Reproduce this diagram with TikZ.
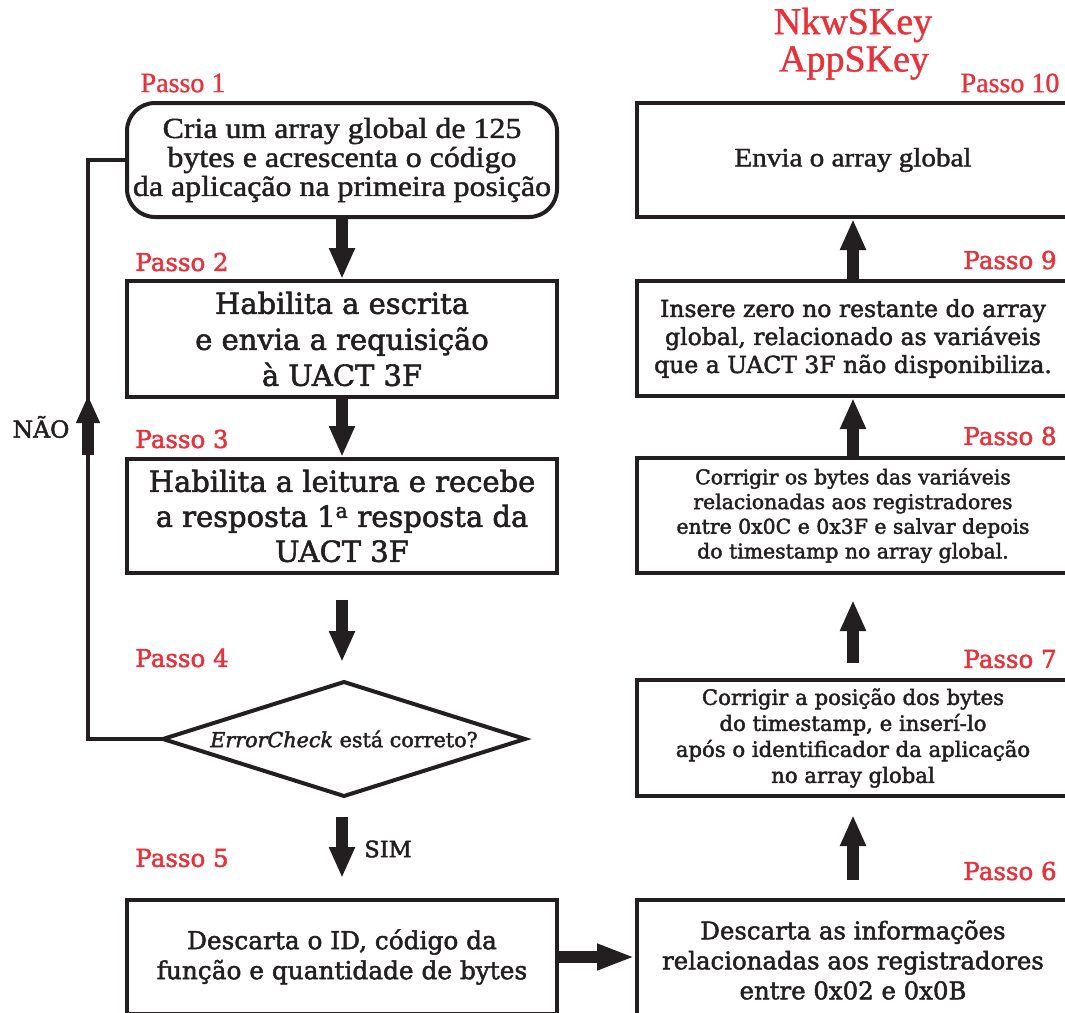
\documentclass[tikz,border=0pt]{standalone}
\usepackage{fontspec}
\setmainfont{DejaVu Serif}[FakeBold=2]
\newfontfamily\cond{Liberation Serif}[FakeStretch=1.1,FakeBold=1.5]
\newfontfamily\condn{Liberation Serif}[FakeBold=1]
\usetikzlibrary{arrows.meta}
\definecolor{ink}{RGB}{35,31,32}
\definecolor{passred}{RGB}{232,49,58}
\begin{document}
\begin{tikzpicture}[x=1pt,y=-1pt,
  box/.style={draw=ink, line width=4pt, rectangle, align=center, text=ink, inner sep=0pt},
  bigarrow/.style={draw=ink, line width=12pt, -{Triangle[width=24pt,length=31pt]}},
  passo/.style={text=passred, inner sep=0pt, font=\fontsize{24.5}{28}\selectfont},
  passoc/.style={text=passred, inner sep=0pt, font=\condn\fontsize{28}{30}\selectfont},
  lbl/.style={text=ink, inner sep=0pt}
]
\useasboundingbox (0,0) rectangle (1065,1012);
\clip (0,0) rectangle (1065,1012);
\fill[white] (0,0) rectangle (1065,1012);

% left column
\node[box, rounded corners=28pt, minimum width=430pt, minimum height=114pt,
  font=\cond\fontsize{29}{29}\selectfont] (b1) at (342,160)
  {Cria um array global de 125\\bytes e acrescenta o código\\da aplicação na primeira posição};
\node[box, minimum width=430pt, minimum height=116pt,
  font=\fontsize{29}{36}\selectfont] (b2) at (342,339)
  {Habilita a escrita\\e envia a requisição\\à UACT 3F};
\node[box, minimum width=430pt, minimum height=114pt,
  font=\fontsize{29}{35}\selectfont] (b3) at (342,516)
  {Habilita a leitura e recebe\\a resposta 1\textsuperscript{a} resposta da\\UACT 3F};

\coordinate (dl) at (163,739);
\coordinate (dr) at (525,739);
\coordinate (dt) at (344,682);
\coordinate (db) at (344,796);
\draw[ink, line width=4pt, line join=miter] (dl) -- (dt) -- (dr) -- (db) -- cycle;
\node[lbl, font=\fontsize{20.7}{24}\selectfont] (d) at (344,739) {\textit{ErrorCheck} está correto?};

\node[box, minimum width=430pt, minimum height=114pt,
  font=\fontsize{24.8}{30}\selectfont] (b5) at (342,957)
  {Descarta o ID, código da\\função e quantidade de bytes};

% right column
\node[box, minimum width=432pt, minimum height=114pt,
  font=\cond\fontsize{26.5}{29}\selectfont] (b10) at (853,160)
  {Envia o array global};
\node[box, minimum width=432pt, minimum height=115pt,
  font=\fontsize{23.5}{28}\selectfont] (b9) at (853,338.5)
  {Insere zero no restante do array\\global, relacionado as variáveis\\que a UACT 3F não disponibiliza.};
\node[box, minimum width=432pt, minimum height=115pt,
  font=\fontsize{20.4}{24.7}\selectfont] (b8) at (853,515.5)
  {Corrigir os bytes das variáveis\\relacionadas aos registradores\\entre 0x0C e 0x3F e salvar depois\\do timestamp no array global.};
\node[box, minimum width=432pt, minimum height=116pt,
  font=\fontsize{21.2}{26}\selectfont] (b7) at (853,738)
  {Corrigir a posição dos bytes\\do timestamp, e inserí-lo\\após o identificador da aplicação\\no array global};
\node[box, minimum width=432pt, minimum height=120pt,
  font=\fontsize{24.4}{30}\selectfont] (b6) at (853,960)
  {Descarta as informações\\relacionadas aos registradores\\entre 0x02 e 0x0B};

% free arrow ends
\coordinate (a3s) at (342,600);
\coordinate (a3e) at (342,662);
\coordinate (a4s) at (342,817);
\coordinate (a4e) at (342,878);
\coordinate (a6s) at (853,880);
\coordinate (a6e) at (853,815);
\coordinate (a7s) at (853,663);
\coordinate (a7e) at (853,600);

\draw[bigarrow] (b1.south) -- (b2.north);
\draw[bigarrow] (b2.south) -- (b3.north);
\draw[bigarrow] (a3s) -- (a3e);
\draw[bigarrow] (a4s) -- (a4e);
\draw[bigarrow, -{Triangle[width=24pt,length=38pt]}] (b5.east) -- (b5.east -| b6.west);
\draw[bigarrow] (a6s) -- (a6e);
\draw[bigarrow] (a7s) -- (a7e);
\draw[bigarrow] (b8.north) -- (b9.south);
\draw[bigarrow] (b9.north) -- (b10.south);

% feedback loop
\coordinate (fbl) at (88,739);
\coordinate (fbt) at (88,160);
\coordinate (fbs) at (88,455);
\coordinate (fbe) at (88,395);
\draw[ink, line width=4pt] (dl) -- (fbl) -- (fbt) -- (b1.west);
\draw[bigarrow, -{Triangle[width=22pt,length=28pt]}] (fbs) -- (fbe);
\node[lbl, font=\fontsize{23.5}{26}\selectfont] (nao) at (41,427) {NÃO};
\node[lbl, font=\fontsize{22.5}{26}\selectfont] (sim) at (388,849) {SIM};

% step labels
\node[passoc] (p1) at (183,83) {Passo 1};
\node[passo] (p2) at (182,262) {Passo 2};
\node[passo] (p3) at (182,439) {Passo 3};
\node[passo] (p4) at (182,658) {Passo 4};
\node[passo] (p5) at (182,858) {Passo 5};
\node[passo] (p6) at (1010,871) {Passo 6};
\node[passo] (p7) at (1010,659) {Passo 7};
\node[passo] (p8) at (1010,436) {Passo 8};
\node[passo] (p9) at (1010,260) {Passo 9};
\node[passoc] (p10) at (1010,83) {Passo 10};
\node[text=passred, inner sep=0pt, font=\condn\fontsize{38}{38}\selectfont] (nk) at (853,25) {NkwSKey};
\node[text=passred, inner sep=0pt, font=\condn\fontsize{38}{38}\selectfont] (ak) at (854,63) {AppSKey};
\end{tikzpicture}
\end{document}
